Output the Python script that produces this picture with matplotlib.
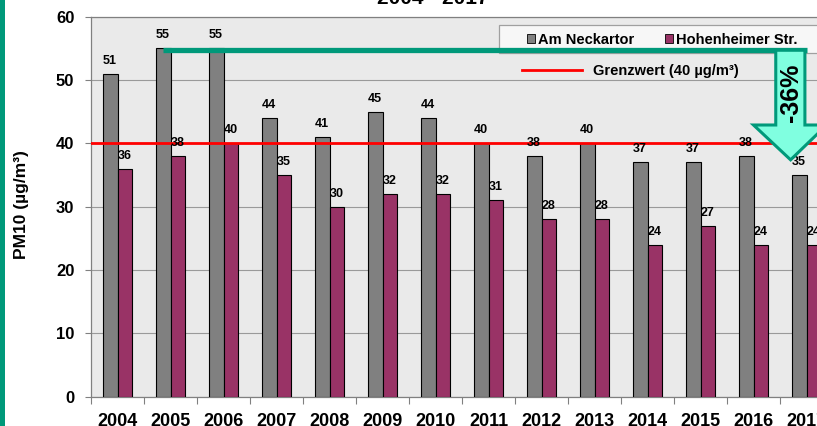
import matplotlib
matplotlib.use("Agg")
import matplotlib.pyplot as plt
from matplotlib.patches import Patch, Polygon, Rectangle
from matplotlib.lines import Line2D
import numpy as np

plt.rcParams['font.family'] = ['Liberation Sans', 'DejaVu Sans']
plt.rcParams['font.weight'] = 'bold'

years = ['2004', '2005', '2006', '2007', '2008', '2009', '2010',
         '2011', '2012', '2013', '2014', '2015', '2016', '2017']
neckartor = [51, 55, 55, 44, 41, 45, 44, 40, 38, 40, 37, 37, 38, 35]
hohenheimer = [36, 38, 40, 35, 30, 32, 32, 31, 28, 28, 24, 27, 24, 24]
limit = 40
reduction_label = '-36%'

W, H = 817, 426
GRAY = '#808080'
PLUM = '#993366'
TEAL = '#00997a'
AQUA = '#80ffe0'


def px(x, y):
    # pixel position (from top-left) -> figure fraction
    return x / W, 1 - y / H


fig = plt.figure(figsize=(W / 100, H / 100), dpi=100)
ax = fig.add_axes([91 / W, 29.3 / H, 742 / W, 380 / H])
ax.set_facecolor('#eaeaea')

x = np.arange(len(years))
bw = 0.283
b1 = ax.bar(x - bw / 2, neckartor, bw, color=GRAY, edgecolor='black', linewidth=0.8, zorder=3)
b2 = ax.bar(x + bw / 2, hohenheimer, bw, color=PLUM, edgecolor='black', linewidth=0.8, zorder=3)

for bars, vals in ((b1, neckartor), (b2, hohenheimer)):
    for r, v in zip(bars, vals):
        ax.annotate(str(v), (r.get_x() + r.get_width() / 2, v), xytext=(0, 5),
                    textcoords='offset points', ha='center', va='bottom',
                    fontsize=9, fontweight='bold', zorder=4)

ax.axhline(limit, color='#ff0000', linewidth=2, zorder=3.5)

ax.set_xlim(-0.5, len(years) - 0.5)
ax.set_ylim(0, 60)
ax.set_yticks(range(0, 61, 10))
ax.tick_params(axis='y', labelsize=12, length=4, width=0.8, pad=8, color='#808080')
ax.set_xticks(x)
ax.set_xticklabels(years)
ax.set_xticks(np.arange(len(years) + 1) - 0.5, minor=True)
ax.tick_params(axis='x', which='major', length=0, labelsize=13, pad=12)
ax.tick_params(axis='x', which='minor', length=5, width=0.8, color='#808080')
for lab in ax.get_xticklabels() + ax.get_yticklabels():
    lab.set_fontweight('bold')
ax.yaxis.grid(True, color='#9a9a9a', linewidth=0.8, zorder=1)
ax.set_axisbelow(True)
for s in ax.spines.values():
    s.set_color('#808080')
    s.set_linewidth(0.9)

# legend frame and entries
fx, fy = px(499, 53)
fw = (835 - 499) / W
fh = (53 - 25) / H
ax.add_patch(Rectangle((fx, fy), fw, fh, transform=fig.transFigure, facecolor='#f7f7f7',
                       edgecolor='#a0a0a0', linewidth=0.9, clip_on=False, zorder=4.5))
h1 = [Patch(facecolor=GRAY, edgecolor='black', linewidth=0.6, label='Am Neckartor'),
      Patch(facecolor=PLUM, edgecolor='black', linewidth=0.6, label='Hohenheimer Str.')]
leg1 = ax.legend(handles=h1, loc='center left', bbox_to_anchor=px(527, 40),
                 bbox_transform=fig.transFigure, ncol=2, frameon=False, borderpad=0,
                 borderaxespad=0, handlelength=0.55, handleheight=0.55, handletextpad=0.2,
                 columnspacing=2.1, prop={'size': 10.5, 'weight': 'bold'})
leg1.set_zorder(5)
ax.add_artist(leg1)
h2 = [Line2D([], [], color='#ff0000', linewidth=2, label='Grenzwert (40 µg/m³)')]
leg2 = ax.legend(handles=h2, loc='center left', bbox_to_anchor=px(522, 71),
                 bbox_transform=fig.transFigure, frameon=False, borderpad=0,
                 borderaxespad=0, handlelength=4.1, handletextpad=0.75,
                 prop={'size': 10.5, 'weight': 'bold'})
leg2.set_zorder(5)

# reduction arrow
ytop = 54.7
ax.plot([1 - bw / 2, 13.0], [ytop, ytop], color=TEAL, linewidth=3.8,
        solid_capstyle='butt', zorder=6, clip_on=False)
arrow = Polygon([(12.42, ytop), (12.97, ytop), (12.97, 42.9), (13.38, 42.9),
                 (12.70, 37.4), (12.0, 42.9), (12.42, 42.9)], closed=True,
                facecolor=AQUA, edgecolor=TEAL, linewidth=2.2, zorder=6, clip_on=False)
ax.add_patch(arrow)
ax.text(12.70, 48.0, reduction_label, rotation=90, ha='center', va='center',
        fontsize=18, fontweight='bold', zorder=7)

# title (cut off at top), y label, left stripe
fig.text(433 / W, 1 - 4 / H, '2004 - 2017', ha='center', va='baseline',
         fontsize=15, fontweight='bold')
fig.text(22 / W, 1 - 205 / H, 'PM10 (µg/m³)', rotation=90, ha='center', va='center',
         fontsize=12.5, fontweight='bold')
fig.patches.append(Rectangle((0, 0), 5 / W, 1, transform=fig.transFigure,
                             facecolor=TEAL, edgecolor='none'))

fig.savefig('out.png', dpi=100)
